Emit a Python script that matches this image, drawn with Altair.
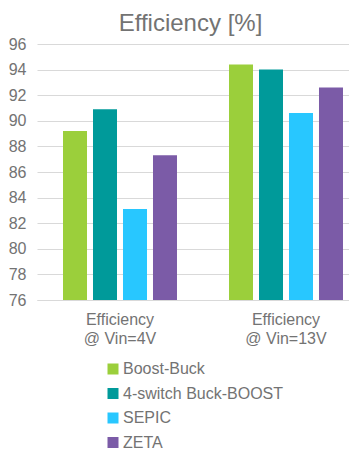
import altair as alt
import pandas as pd

groups = ["Efficiency|@ Vin=4V", "Efficiency|@ Vin=13V"]
series = ["Boost-Buck", "4-switch Buck-BOOST", "SEPIC", "ZETA"]
colors = ["#9BCF3B", "#009A9A", "#28C7FF", "#7B5BA7"]
values_4v = [89.2, 90.9, 83.1, 87.3]
values_13v = [94.4, 94.0, 90.6, 92.6]
y_ticks = list(range(76, 97, 2))
y_min, y_max = 76, 96

rows = []
for g, vals in zip(groups, [values_4v, values_13v]):
    for s, v in zip(series, vals):
        rows.append({"group": g, "series": s, "value": v})
df = pd.DataFrame(rows)

FONT = "Liberation Sans"
GRAY = "#737373"
GRID = "#D9D9D9"

chart = alt.Chart(df).mark_bar().encode(
    x=alt.X(
        "group:N", sort=groups,
        scale=alt.Scale(range=[1, 333], paddingInner=0, paddingOuter=0),
        axis=alt.Axis(title=None, labelAngle=0, labelExpr="split(datum.label, '|')",
                      ticks=False, domain=True, domainColor=GRID, labelFontSize=16,
                      labelColor=GRAY, labelFont=FONT, labelPadding=11,
                      labelLineHeight=19, labelBaseline="top"),
    ),
    xOffset=alt.XOffset("series:N", sort=series,
                        scale=alt.Scale(paddingInner=0.2, paddingOuter=0.867)),
    y=alt.Y(
        "value:Q",
        scale=alt.Scale(domain=[y_min, y_max], nice=False, zero=False),
        axis=alt.Axis(title=None, values=y_ticks, ticks=False, domain=False,
                      gridColor=GRID, gridWidth=1, labelFontSize=16,
                      labelColor=GRAY, labelFont=FONT, labelPadding=10),
    ),
    y2=alt.Y2(datum=y_min),
    color=alt.Color(
        "series:N", sort=series,
        scale=alt.Scale(domain=series, range=colors),
        legend=alt.Legend(title=None, orient="none", legendX=69, legendY=317,
                          direction="vertical", symbolType="square", symbolSize=121,
                          symbolStrokeWidth=0, labelFontSize=16, labelColor=GRAY,
                          labelFont=FONT, labelOffset=2, rowPadding=8.5, padding=0,
                          labelLimit=300),
    ),
).properties(
    width=313,
    height=256,
    title=alt.TitleParams("Efficiency [%]", fontSize=24, color=GRAY, font=FONT,
                          fontWeight="normal", anchor="middle", frame="group",
                          offset=0, dx=-2),
    autosize=alt.AutoSizeParams(type="none"),
    padding={"left": 28, "top": 36, "right": 0, "bottom": 151},
).configure_view(stroke=None)

chart.save("out.html", embed_options={"renderer": "svg", "actions": False})
